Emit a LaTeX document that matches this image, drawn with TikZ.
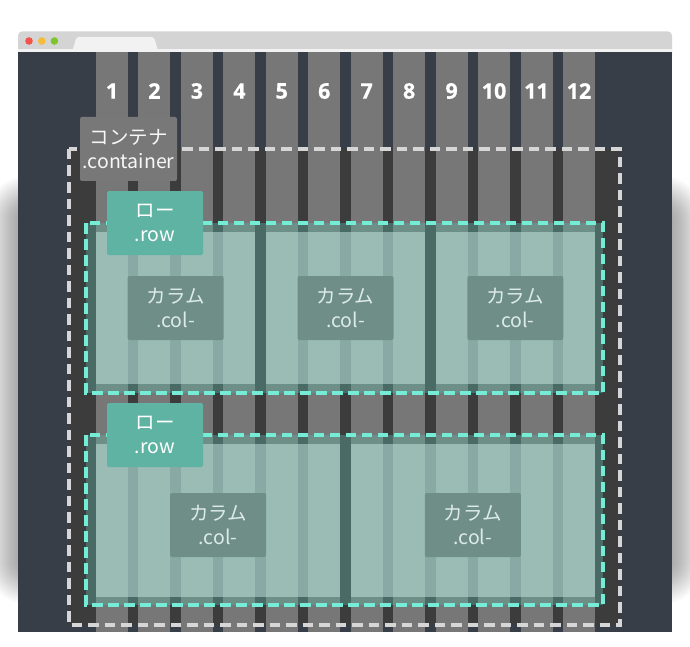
\documentclass[tikz,border=0pt]{standalone}
\usepackage{fontspec}
\newfontfamily\jp{Noto Sans CJK JP}
\newfontfamily\numf{Open Sans}[FakeBold=0.6]
\definecolor{navy}{HTML}{383E48}
\definecolor{bargray}{HTML}{D4D4D4}
\definecolor{tabwhite}{HTML}{F2F2F2}
\definecolor{contfill}{HTML}{3C3C3C}
\definecolor{gridcol}{HTML}{777777}
\definecolor{contdash}{HTML}{D6D6D6}
\definecolor{rowteal}{HTML}{5FB3A3}
\definecolor{rowdash}{HTML}{74ECD6}
\definecolor{collabel}{HTML}{6F8E88}
\definecolor{coltext}{HTML}{DDEBE8}
\definecolor{colcontent}{RGB}{201,234,227}
\definecolor{contlabel}{HTML}{787878}
\definecolor{dotred}{HTML}{F2544C}
\definecolor{dotyellow}{HTML}{F5BC3A}
\definecolor{dotgreen}{HTML}{7DC42E}
\begin{document}
\begin{tikzpicture}[x=1pt,y=-1pt,
  lblbox/.style={rounded corners=2pt, minimum width=96pt, minimum height=64pt, inner sep=0pt, align=center, font=\jp\fontsize{19.5}{24}\selectfont},
  contlbl/.style={lblbox, fill=contlabel, text=white!94!gray, minimum width=97pt},
  rowlbl/.style={lblbox, fill=rowteal, text=white},
  collbl/.style={lblbox, fill=collabel, text=coltext},
  numlbl/.style={text=white, font=\numf\bfseries\fontsize{21.5}{24}\selectfont, inner sep=0pt},
  gridstrip/.style={fill=gridcol},
  rowpad/.style={fill=rowteal, fill opacity=0.4},
  colarea/.style={fill=colcontent, fill opacity=0.5},
  rowframe/.style={draw=rowdash, line width=3.2pt, dash pattern=on 10.5pt off 5.5pt},
  contframe/.style={draw=contdash, line width=3.2pt, dash pattern=on 10.5pt off 6pt}
]
\useasboundingbox (0,0) rectangle (690,647);
\fill[white] (0,0) rectangle (690,647);
% soft shadow
\foreach \i in {1,...,30}{
  \pgfmathsetmacro\d{\i*1.5}
  \fill[black, opacity=0.017, rounded corners=\d pt] ({30-\d},{220-\d}) rectangle ({660+\d},{560+\d});
}
% browser window
\fill[bargray, rounded corners=4pt] (18,31.5) rectangle (672,60);
\fill[tabwhite] (18,49.5) rectangle (672,52.5);
\fill[tabwhite, rounded corners=2pt] (72.5,50.5) -- (76.5,37) -- (154,37) -- (158,50.5) -- cycle;
\fill[dotred] (29,41) circle (3.8);
\fill[dotyellow] (41.8,41) circle (3.8);
\fill[dotgreen] (54.4,41) circle (3.8);
\fill[navy] (18,52.5) rectangle (672,632);
% container fill
\fill[contfill] (69,149) rectangle (620,625);
% grid columns and numbers
\foreach \i in {1,...,12}{
  \pgfmathsetmacro\gx{96+42.45*(\i-1)}
  \fill[gridstrip] (\gx,52.5) rectangle ({\gx+32},632);
  \node[numlbl] (num\i) at ({\gx+16},91) {\i};
}
% container border
\path[contframe] (69,149) rectangle (620,625);
% row 1
\fill[rowpad] (86,223) rectangle (603,393);
\fill[colarea] (96,232) rectangle (255.35,384);
\fill[colarea] (265.8,232) rectangle (425.15,384);
\fill[colarea] (435.6,232) rectangle (594.95,384);
\path[rowframe] (86,223) rectangle (603,393);
% row 2
\fill[rowpad] (86,435) rectangle (603,605);
\fill[colarea] (96,444) rectangle (340.25,597);
\fill[colarea] (350.7,444) rectangle (594.95,597);
\path[rowframe] (86,435) rectangle (603,605);
% labels
\node[contlbl] (contlabel) at (128.5,149) {コンテナ\\.container};
\node[rowlbl] (rowlabelA) at (155,223) {ロー\\.row};
\node[rowlbl] (rowlabelB) at (155,435) {ロー\\.row};
\node[collbl] (colA1) at (175.7,308) {カラム\\.col-};
\node[collbl] (colA2) at (345.5,308) {カラム\\.col-};
\node[collbl] (colA3) at (515.3,308) {カラム\\.col-};
\node[collbl] (colB1) at (218.1,525) {カラム\\.col-};
\node[collbl] (colB2) at (472.9,525) {カラム\\.col-};
\end{tikzpicture}
\end{document}
